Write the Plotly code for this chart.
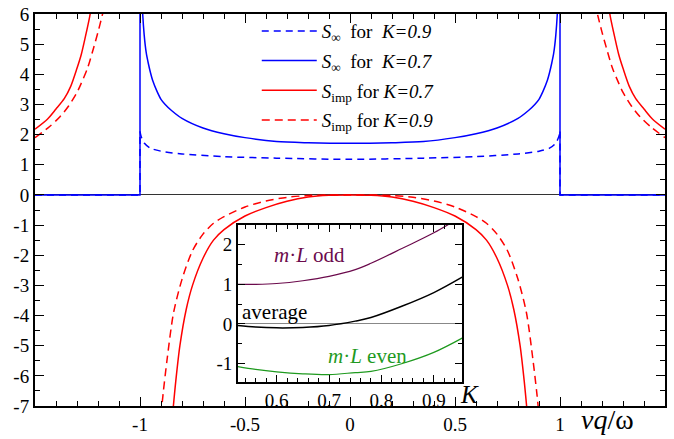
import plotly.graph_objects as go

# ---------------- main panel data ----------------
# S_inf, K=0.7 inside |x|<1 (right half, mirrored to the left)
sinf07_x = [0.0, 0.2, 0.35, 0.5, 0.6, 0.7, 0.8, 0.85, 0.88, 0.9, 0.92, 0.94, 0.95, 0.96, 0.97, 0.98, 0.99, 0.995]
sinf07_y = [1.71, 1.73, 1.77, 1.90, 2.03, 2.22, 2.54, 2.80, 3.0, 3.17, 3.45, 3.8, 4.05, 4.35, 4.7, 5.3, 6.4, 8.0]
# S_inf, K=0.9 inside |x|<1
sinf09_x = [0.0, 0.35, 0.6, 0.8, 0.9, 0.95, 0.98, 0.995, 1.0]
sinf09_y = [1.18, 1.22, 1.27, 1.36, 1.45, 1.55, 1.72, 1.95, 2.1]
# S_inf outside |x|<1 (both K): jump at x=1 down to zero
sinf_edge_x = [1.0, 1.0, 1.5]
sinf07_edge_y = [8.0, 0.0, 0.0]
sinf09_edge_y = [2.1, 0.0, 0.0]
# S_imp, K=0.7 : inner branch (|x|<1) and outer branch (|x|>1)
simp07_in_x = [0.0, 0.1, 0.2, 0.3, 0.4, 0.5, 0.6, 0.65, 0.7, 0.75, 0.78, 0.81, 0.83, 0.845]
simp07_in_y = [0.0, -0.01, -0.07, -0.21, -0.42, -0.70, -1.15, -1.5, -2.1, -3.0, -3.8, -5.0, -6.2, -7.3]
simp07_out_x = [1.225, 1.24, 1.26, 1.28, 1.30, 1.33, 1.36, 1.40, 1.44, 1.50]
simp07_out_y = [6.5, 5.9, 5.25, 4.65, 4.2, 3.6, 3.2, 2.85, 2.52, 2.18]
# S_imp, K=0.9
simp09_in_x = [0.0, 0.1, 0.2, 0.3, 0.4, 0.5, 0.6, 0.65, 0.7, 0.75, 0.8, 0.84, 0.87, 0.89, 0.9]
simp09_in_y = [0.0, -0.003, -0.02, -0.08, -0.20, -0.40, -0.72, -0.94, -1.3, -1.85, -2.8, -3.9, -5.4, -6.6, -7.3]
simp09_out_x = [1.165, 1.18, 1.20, 1.22, 1.25, 1.28, 1.30, 1.34, 1.38, 1.43, 1.50]
simp09_out_y = [6.4, 5.95, 5.4, 4.9, 4.2, 3.7, 3.4, 2.95, 2.6, 2.27, 1.9]

main_xtick_vals = [-1, -0.5, 0, 0.5, 1]
main_xtick_text = ["-1", "-0.5", "0", "0.5", "1"]
main_ytick_vals = [-7, -6, -5, -4, -3, -2, -1, 0, 1, 2, 3, 4, 5, 6]
main_ytick_text = ["-7", "-6", "-5", "-4", "-3", "-2", "-1", "0", "1", "2", "3", "4", "5", "6"]

# ---------------- inset data ----------------
K_vals = [0.526, 0.56, 0.6, 0.65, 0.7, 0.75, 0.78, 0.84, 0.9, 0.954]
mL_odd = [1.0, 1.0, 1.02, 1.09, 1.2, 1.37, 1.53, 1.91, 2.3, 2.72]
mL_even = [-1.08, -1.15, -1.21, -1.26, -1.28, -1.23, -1.20, -1.0, -0.72, -0.36]
mL_avg = [-0.04, -0.08, -0.10, -0.09, -0.04, 0.07, 0.16, 0.45, 0.79, 1.18]

inset_xtick_vals = [0.6, 0.7, 0.8, 0.9]
inset_xtick_text = ["0.6", "0.7", "0.8", "0.9"]
inset_ytick_vals = [-1, 0, 1, 2]
inset_ytick_text = ["-1", "0", "1", "2"]


def mirror_full(xs, ys):
    """left half (mirror) + right half, sharing x=0"""
    lx = [-v for v in reversed(xs)]
    ly = list(reversed(ys))
    return lx[:-1] + list(xs), ly[:-1] + list(ys)


def mirror_pair(xs, ys):
    """left copy (mirrored) + gap + right copy"""
    lx = [-v for v in reversed(xs)]
    ly = list(reversed(ys))
    return lx + [None] + list(xs), ly + [None] + list(ys)


def two_sided(in_x, in_y, out_x, out_y):
    ix, iy = mirror_full(in_x, in_y)
    lox = [-v for v in reversed(out_x)]
    loy = list(reversed(out_y))
    return (lox + [None] + ix + [None] + list(out_x),
            loy + [None] + iy + [None] + list(out_y))


FONT = "Liberation Serif, Times New Roman, serif"
BLUE = "#0000ff"
RED = "#ff0000"
PURPLE = "#6b0a4c"
GREEN = "#1f9a1f"

fig = go.Figure()

# S_inf K=0.9 (dashed)
x1, y1 = mirror_full(sinf09_x, sinf09_y)
fig.add_trace(go.Scatter(x=x1, y=y1, mode="lines", legendgroup="a",
                         line=dict(color=BLUE, width=1.5, dash="7px,5px", shape="spline", smoothing=0.8),
                         name="<i>S</i><sub>∞</sub>  for  <i>K=0.9</i>"))
ex, ey = mirror_pair(sinf_edge_x, sinf09_edge_y)
fig.add_trace(go.Scatter(x=ex, y=ey, mode="lines", legendgroup="a", showlegend=False,
                         line=dict(color=BLUE, width=1.5, dash="7px,5px")))
# S_inf K=0.7 (solid)
x2, y2 = mirror_full(sinf07_x, sinf07_y)
fig.add_trace(go.Scatter(x=x2, y=y2, mode="lines", legendgroup="b",
                         line=dict(color=BLUE, width=1.5, shape="spline", smoothing=0.8),
                         name="<i>S</i><sub>∞</sub>  for  <i>K=0.7</i>"))
ex, ey = mirror_pair(sinf_edge_x, sinf07_edge_y)
fig.add_trace(go.Scatter(x=ex, y=ey, mode="lines", legendgroup="b", showlegend=False,
                         line=dict(color=BLUE, width=1.5)))
# S_imp K=0.7 (solid red)
x3, y3 = two_sided(simp07_in_x, simp07_in_y, simp07_out_x, simp07_out_y)
fig.add_trace(go.Scatter(x=x3, y=y3, mode="lines", legendgroup="c",
                         line=dict(color=RED, width=1.5, shape="spline", smoothing=0.8),
                         connectgaps=False,
                         name="<i>S</i><sub>imp</sub> for <i>K=0.7</i>"))
# S_imp K=0.9 (dashed red)
x4, y4 = two_sided(simp09_in_x, simp09_in_y, simp09_out_x, simp09_out_y)
fig.add_trace(go.Scatter(x=x4, y=y4, mode="lines", legendgroup="d",
                         line=dict(color=RED, width=1.5, dash="8px,5px", shape="spline", smoothing=0.8),
                         connectgaps=False,
                         name="<i>S</i><sub>imp</sub> for <i>K=0.9</i>"))

# inset traces
for yy, col, w in [(mL_odd, PURPLE, 1.2), (mL_avg, "black", 1.5), (mL_even, GREEN, 1.2)]:
    fig.add_trace(go.Scatter(x=K_vals, y=yy, mode="lines",
                             line=dict(color=col, width=w, shape="spline", smoothing=1.0),
                             xaxis="x2", yaxis="y2", showlegend=False))

tickfont = dict(family=FONT, size=19, color="black")

fig.update_layout(
    template="none",
    width=674, height=439,
    margin=dict(l=35, r=9, t=14, b=33, pad=0),
    paper_bgcolor="white", plot_bgcolor="white",
    font=dict(family=FONT, color="black"),
    showlegend=True,
    legend=dict(x=0.352, y=1.005, xanchor="left", yanchor="top",
                bgcolor="rgba(0,0,0,0)", font=dict(family=FONT, size=19),
                tracegroupgap=2, itemwidth=55),
    xaxis=dict(range=[-1.5, 1.5], domain=[0, 1], showgrid=False, zeroline=False, automargin=False,
               showline=True, linecolor="black", linewidth=2, mirror="ticks",
               ticks="inside", ticklen=9, tickwidth=1.3, tickcolor="black",
               tickmode="array", tickvals=main_xtick_vals, ticktext=main_xtick_text,
               tickfont=tickfont,
               minor=dict(dtick=0.1, tick0=0, ticks="inside", ticklen=5, tickwidth=1,
                          tickcolor="black", showgrid=False)),
    yaxis=dict(range=[-7, 6], domain=[0, 1], showgrid=False, automargin=False,
               zeroline=True, zerolinecolor="#333333", zerolinewidth=1,
               showline=True, linecolor="black", linewidth=2, mirror="ticks",
               ticks="inside", ticklen=9, tickwidth=1.3, tickcolor="black",
               tickmode="array", tickvals=main_ytick_vals, ticktext=main_ytick_text,
               tickfont=tickfont,
               minor=dict(dtick=0.5, tick0=0, ticks="inside", ticklen=5, tickwidth=1,
                          tickcolor="black", showgrid=False)),
    xaxis2=dict(range=[0.526, 0.954], domain=[0.322, 0.678], anchor="y2", automargin=False,
                showgrid=False, zeroline=False,
                showline=True, linecolor="black", linewidth=1.5, mirror="ticks",
                ticks="inside", ticklen=7, tickwidth=1.2, tickcolor="black",
                tickmode="array", tickvals=inset_xtick_vals, ticktext=inset_xtick_text,
                tickfont=tickfont,
                minor=dict(dtick=0.02, tick0=0, ticks="inside", ticklen=4, tickwidth=1,
                           tickcolor="black", showgrid=False)),
    yaxis2=dict(range=[-1.47, 2.5], domain=[0.061, 0.462], anchor="x2", automargin=False,
                showgrid=False, zeroline=True, zerolinecolor="#888888", zerolinewidth=1.2,
                showline=True, linecolor="black", linewidth=1.5, mirror="ticks",
                ticks="inside", ticklen=7, tickwidth=1.2, tickcolor="black",
                tickmode="array", tickvals=inset_ytick_vals, ticktext=inset_ytick_text,
                tickfont=tickfont,
                minor=dict(dtick=0.5, tick0=0, ticks="inside", ticklen=4, tickwidth=1,
                           tickcolor="black", showgrid=False)),
)

# inset white background
fig.add_shape(type="rect", xref="x2 domain", yref="y2 domain", x0=0, x1=1, y0=0, y1=1,
              fillcolor="white", line=dict(width=0), layer="below")

annots = [
    dict(text="<i>m</i>·<i>L</i> odd", x=0.663, y=1.75, xref="x2", yref="y2",
         font=dict(family=FONT, size=21, color=PURPLE)),
    dict(text="average", x=0.53, y=0.3, xref="x2", yref="y2", xanchor="left",
         font=dict(family=FONT, size=21, color="black")),
    dict(text="<i>m</i>·<i>L</i> even", x=0.774, y=-0.8, xref="x2", yref="y2",
         font=dict(family=FONT, size=21, color=GREEN)),
    dict(text="<i>K</i>", x=0.69, y=0.03, xref="paper", yref="paper",
         font=dict(family=FONT, size=25, color="black")),
    dict(text="<i>vq</i>/ω", x=0.908, y=-0.0357, xref="paper", yref="paper",
         font=dict(family=FONT, size=28, color="black")),
]
for a in annots:
    a.setdefault("xanchor", "center")
    a.setdefault("yanchor", "middle")
    fig.add_annotation(showarrow=False, **a)

fig.write_html("out.html", config={"displayModeBar": False},
               post_script="document.body.style.margin='0';")
